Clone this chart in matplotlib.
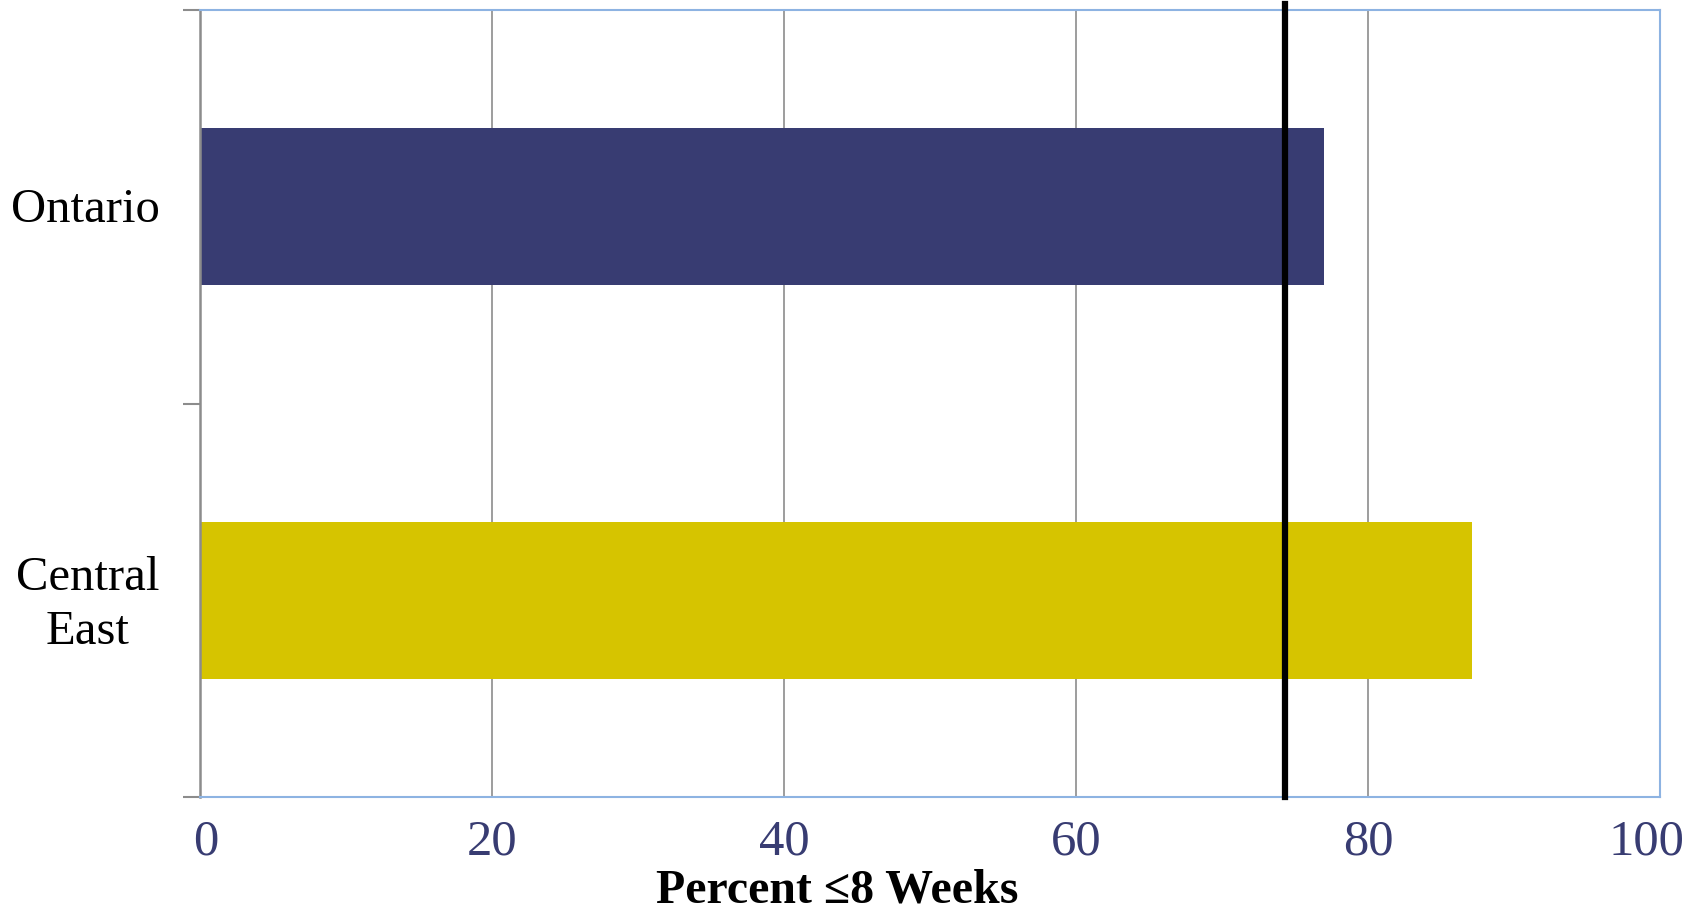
import numpy as np
import matplotlib.transforms as mtransforms
from matplotlib import pyplot as plt

# data
regions = ["Central\nEast", "Ontario"]
pct_8wk = [87.1, 77.0]
bar_colors = ["#D6C400", "#383C72"]
target = 74.3
xticks = [0, 20, 40, 60, 80, 100]

plt.rcParams['font.family'] = ['Liberation Serif', 'DejaVu Serif']

fig = plt.figure(figsize=(16.88, 9.11), dpi=100)
ax = fig.add_axes([200/1688, 1 - 797/911, 1460/1688, 787/911])

ypos = np.arange(len(regions)) + 0.5
ax.barh(ypos, pct_8wk, height=0.4, color=bar_colors, zorder=2)

# target line
ax.axvline(target, ymin=0, ymax=1.007, color="black", lw=4.5, zorder=3, clip_on=False)

ax.set_xlim(0, 100)
ax.set_ylim(0, len(regions))
ax.set_xticks(xticks)
ax.set_xticklabels([str(t) for t in xticks])
ax.xaxis.grid(True, color="#8c8c8c", lw=1.2, zorder=1)
ax.tick_params(axis="x", length=0, pad=16, labelsize=36.5, labelcolor="#383C72")

# excel nudges the end labels inward
lbls = ax.get_xticklabels()
lbls[0].set_transform(lbls[0].get_transform() + mtransforms.ScaledTranslation(0.06, 0, fig.dpi_scale_trans))
lbls[-1].set_transform(lbls[-1].get_transform() + mtransforms.ScaledTranslation(-0.14, 0, fig.dpi_scale_trans))

# category boundaries as major ticks, names on minor ticks
ax.set_yticks(np.arange(len(regions) + 1))
ax.set_yticklabels([])
ax.set_yticks(ypos, minor=True)
ax.set_yticklabels(regions, minor=True, fontsize=35, multialignment="center", linespacing=1.3)
ax.tick_params(axis="y", which="major", length=12, width=1.5, color="#8c8c8c")
ax.tick_params(axis="y", which="minor", length=0, pad=29)
for lb, dy in zip(ax.get_yticklabels(minor=True), [0.05, 0.02]):
    lb.set_transform(lb.get_transform() + mtransforms.ScaledTranslation(0, dy, fig.dpi_scale_trans))

for s in ["top", "right", "bottom"]:
    ax.spines[s].set_color("#8DB3E2")
    ax.spines[s].set_linewidth(1.5)
ax.spines["left"].set_color("#8c8c8c")
ax.spines["left"].set_linewidth(1.8)

fig.text(0.496, 0.009, "Percent \u22648 Weeks", ha="center", va="baseline",
         fontsize=34.5, fontweight="bold")

plt.savefig("out.png", dpi=100)
